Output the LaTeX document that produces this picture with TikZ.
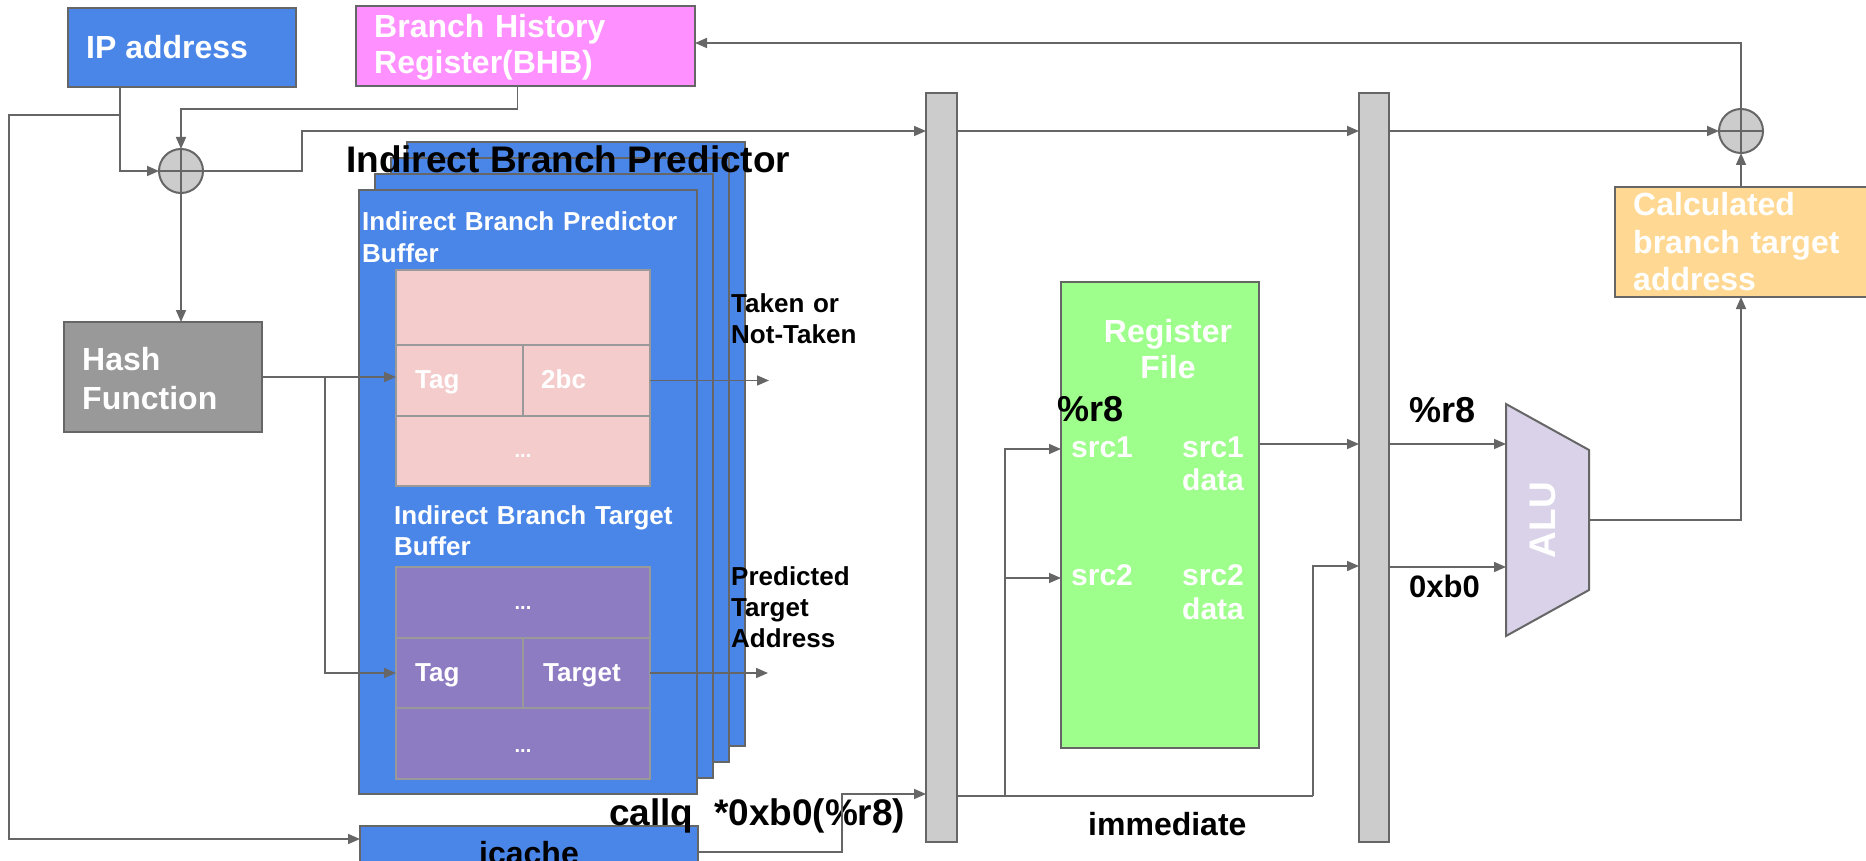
\documentclass[tikz,border=0pt]{standalone}
\usepackage{fontspec}
\setmainfont{Liberation Sans}
\usetikzlibrary{arrows.meta,calc}
\definecolor{lgray}{HTML}{666666}
\definecolor{ipblue}{HTML}{4A86E8}
\definecolor{bhbpink}{HTML}{FF90FF}
\definecolor{hashgray}{HTML}{999999}
\definecolor{cellpink}{HTML}{F4CCCC}
\definecolor{cellpurple}{HTML}{8E7CC3}
\definecolor{cellline}{HTML}{999999}
\definecolor{regfill}{HTML}{CCCCCC}
\definecolor{rfgreen}{HTML}{9FFF8C}
\definecolor{calcfill}{HTML}{FFD994}
\definecolor{alufill}{HTML}{D9D2E9}
\newcommand\fz[2]{\fontsize{#1}{#2}\selectfont\bfseries}
\begin{document}
\begin{tikzpicture}[x=1pt,y=-1pt,
  box/.style={draw=lgray, line width=2pt, inner sep=0pt, outer sep=0pt, anchor=north west},
  cell/.style={draw=cellline, line width=2pt, inner sep=0pt, outer sep=0pt, anchor=north west},
  conn/.style={draw=lgray, line width=1.6pt},
  arr/.style={conn, -{Triangle[length=12pt,width=10pt]}},
  wtxt/.style={text=white, inner sep=0pt, anchor=base west, align=left, text width=380pt},
  btxt/.style={text=black, inner sep=0pt, anchor=base west, align=left, text width=380pt},
  wone/.style={text=white, inner sep=0pt, anchor=base west},
  bone/.style={text=black, inner sep=0pt, anchor=base west},
  ctxt/.style={inner sep=0pt, anchor=base},
  xorn/.style={circle, draw=lgray, fill=regfill, line width=2pt, minimum size=44pt, inner sep=0pt, outer sep=0pt},
]
\clip (0,0) rectangle (1866,861);
\fill[white] (0,0) rectangle (1866,861);

% top boxes
\node[box, fill=ipblue, minimum width=228pt, minimum height=79pt] (ip) at (68,8) {};
\node[wone, font=\fz{32}{36}] (iptxt) at (86,59) {IP address};
\node[box, fill=bhbpink, minimum width=339pt, minimum height=80pt] (bhb) at (356,6) {};
\node[wtxt, font=\fz{32}{36}] (bhbtxt) at (374,38) {Branch History\\Register(BHB)};
\node[box, fill=hashgray, minimum width=198pt, minimum height=110pt] (hash) at (64,322) {};
\node[wtxt, font=\fz{32}{39}] (hashtxt) at (82,370) {Hash\\Function};

% predictor stack
\foreach \i in {3,2,1,0}
  \node[box, fill=ipblue, minimum width=338pt, minimum height=604pt] (ibp\i) at ({359+16*\i},{190-16*\i}) {};
\node[bone, font=\fz{37}{41}] (title) at (346,173) {Indirect Branch Predictor};
\node[wtxt, font=\fz{26}{32}] (ibpbtxt) at (362,231) {Indirect Branch Predictor\\Buffer};

% pink table
\node[cell, fill=cellpink, minimum width=254pt, minimum height=75pt] (pA) at (396,270) {};
\node[cell, fill=cellpink, minimum width=127pt, minimum height=71pt] (tagA) at (396,345) {};
\node[cell, fill=cellpink, minimum width=127pt, minimum height=71pt] (bc) at (523,345) {};
\node[cell, fill=cellpink, minimum width=254pt, minimum height=70pt] (pC) at (396,416) {};
\node[wone, font=\fz{26}{30}] (tagAtxt) at (415,388) {Tag};
\node[wone, font=\fz{26}{30}] (bctxt) at (541,388) {2bc};
\node[ctxt, text=white, font=\fz{20}{24}] (pdots) at (523,457) {...};

% purple table
\node[wtxt, font=\fz{26}{31}] (ibttxt) at (394,524) {Indirect Branch Target\\Buffer};
\node[cell, fill=cellpurple, minimum width=254pt, minimum height=71pt] (qA) at (396,567) {};
\node[cell, fill=cellpurple, minimum width=127pt, minimum height=70pt] (tagB) at (396,638) {};
\node[cell, fill=cellpurple, minimum width=127pt, minimum height=70pt] (target) at (523,638) {};
\node[cell, fill=cellpurple, minimum width=254pt, minimum height=71pt] (qC) at (396,708) {};
\node[wone, font=\fz{26}{30}] (tagBtxt) at (415,681) {Tag};
\node[wone, font=\fz{26}{30}] (targettxt) at (543,681) {Target};
\node[ctxt, text=white, font=\fz{20}{24}] (qdots1) at (523,609) {...};
\node[ctxt, text=white, font=\fz{20}{24}] (qdots2) at (523,752) {...};

\node[btxt, font=\fz{26}{32}] (tnttxt) at (731,312) {Taken or\\Not-Taken};
\node[btxt, font=\fz{26}{31}] (ptatxt) at (731,585) {Predicted\\Target\\Address};

% icache
\node[box, fill=ipblue, minimum width=338pt, minimum height=80pt] (icache) at (360,826) {};
\node[ctxt, text=black, font=\fz{32}{36}] (icachetxt) at (529,864) {icache};
\node[bone, font=\fz{37}{41}] (callq) at (609,825) {callq\ \ *0xb0(\%r8)};

% pipeline registers
\node[box, fill=regfill, minimum width=31pt, minimum height=749pt] (reg1) at (926,93) {};
\node[box, fill=regfill, minimum width=30pt, minimum height=749pt] (reg2) at (1359,93) {};

% register file
\node[box, fill=rfgreen, minimum width=198pt, minimum height=466pt] (rf) at (1061,282) {};
\node[ctxt, text=white, font=\fz{32}{36}, align=center, text width=200pt] (rftxt) at (1168,342) {Register\\File};
\node[bone, font=\fz{36}{40}] (r8a) at (1057,421) {\%r8};
\node[wone, font=\fz{30}{33}] (src1) at (1071,457) {src1};
\node[wtxt, font=\fz{30}{33}] (src1d) at (1182,457) {src1\\data};
\node[wone, font=\fz{30}{33}] (src2) at (1071,585) {src2};
\node[wtxt, font=\fz{30}{34}] (src2d) at (1182,585) {src2\\data};
\node[bone, font=\fz{32}{36}] (immtxt) at (1088,835) {immediate};

\node[bone, font=\fz{36}{40}] (r8b) at (1409,422) {\%r8};
\node[bone, font=\fz{31}{36}] (xb0) at (1409,597) {0xb0};

% ALU
\draw[draw=lgray, fill=alufill, line width=2pt] (1506,404) -- (1589,450) -- (1589,590) -- (1506,636) -- cycle;
\coordinate (alu1) at (1506,444);
\coordinate (alu2) at (1506,567);
\coordinate (aluo) at (1589,520);
\node[text=white, font=\fz{37}{42}, rotate=90, inner sep=0pt] (alutxt) at (1543,520) {ALU};

% calculated target
\node[box, fill=calcfill, minimum width=265pt, minimum height=110pt] (calc) at (1615,187) {};
\node[wtxt, font=\fz{32}{38}] (calctxt) at (1633,215) {Calculated\\branch target\\address};

% xors
\node[xorn] (xor1) at (181,171) {};
\draw[lgray, line width=2pt] (xor1.north) -- (xor1.south) (xor1.west) -- (xor1.east);
\node[xorn] (xor2) at (1741,131) {};
\draw[lgray, line width=2pt] (xor2.north) -- (xor2.south) (xor2.west) -- (xor2.east);

% connectors
\draw[arr] ($(ip.south west)+(52,0)$) |- (xor1.west);
\coordinate (ipbr) at (120,115);
\draw[arr] (ipbr) -- (9,115) |- ($(icache.north west)+(0,13)$);
\draw[arr] ($(bhb.south)+(-8,0)$) -- ++(0,23) -| (xor1.north);
\draw[arr] (xor1.east) -- (302,171) |- ($(reg1.north west)+(0,38)$);
\draw[arr] (xor1.south) -- (xor1.south |- hash.north);
\draw[arr] (hash.east) -- (hash.east -| tagA.west);
\draw[arr] (325,377) |- (tagB.west);
\coordinate (tnt) at (769,380);
\draw[arr] (bc.east) -- (tnt |- bc.east);
\coordinate (pta) at (768,673);
\draw[arr] (target.east) -- (pta |- target.east);
\draw[arr] ($(icache.north east)+(0,26)$) -- (842,852) |- ($(reg1.south west)+(0,-48)$);
\draw[arr] ($(reg1.north east)+(0,38)$) -- ($(reg2.north west)+(0,38)$);
\draw[arr] ($(reg2.north east)+(0,38)$) -- (xor2.west);
\draw[arr] (xor2.north) |- ($(bhb.north east)+(0,37)$);
\draw[arr] (xor2.south |- calc.north) -- (xor2.south);
\draw[arr] (aluo) -| (xor2.south |- calc.south);
\coordinate (imm) at (1005,796);
\draw[conn] ($(reg1.south east)+(0,-46)$) -- (1313,796);
\draw[arr] (1313,796) |- ($(reg2.north west)+(0,473)$);
\draw[arr] (imm) |- ($(rf.north west)+(0,167)$);
\draw[arr] (1005,578) -- ($(rf.north west)+(0,296)$);
\draw[arr] ($(rf.north east)+(0,162)$) -- ($(reg2.north west)+(0,351)$);
\draw[arr] ($(reg2.north east)+(0,351)$) -- (alu1);
\draw[arr] ($(reg2.north east)+(0,474)$) -- (alu2);
\end{tikzpicture}
\end{document}
